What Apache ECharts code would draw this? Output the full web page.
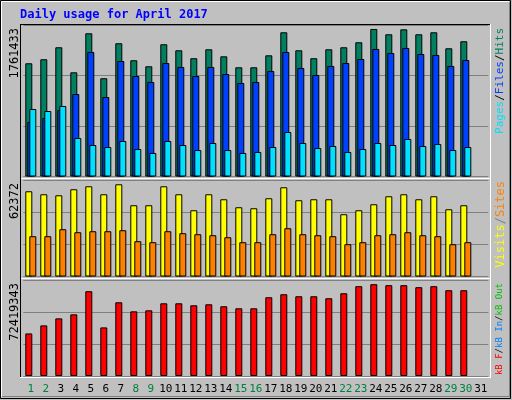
<!DOCTYPE html>
<html><head><meta charset="utf-8">
<script src="https://cdn.jsdelivr.net/npm/echarts@6/dist/echarts.min.js"></script>
<style>html,body{margin:0;padding:0;background:#c0c0c0}#c{width:512px;height:400px}</style>
</head><body><div id="c"></div>
<script>
const days = Array.from({length:31},(_,i)=>String(i+1));
const weekendDays = ['1','2','8','9','15','16','22','23','29','30'];
const hits = [1352000,1400000,1543000,1244000,1710000,1173000,1591000,1388000,1316000,1579000,1507000,1412000,1519000,1435000,1304000,1304000,1447000,1722000,1507000,1412000,1519000,1543000,1603000,1761433,1698000,1757000,1698000,1722000,1531000,1615000];
const files = [651000,699000,794000,985000,1487000,949000,1379000,1200000,1129000,1355000,1308000,1200000,1308000,1224000,1117000,1129000,1260000,1487000,1296000,1212000,1320000,1355000,1403000,1523000,1475000,1535000,1463000,1451000,1320000,1391000];
const pages = [806000,782000,842000,460000,376000,352000,424000,328000,281000,424000,376000,316000,400000,316000,281000,293000,352000,531000,400000,340000,364000,293000,328000,400000,376000,448000,364000,388000,316000,352000];
const visits = [57650,55620,54940,59000,61020,55620,62372,48190,48190,61020,55620,44810,55620,52240,46840,46160,52920,60350,51570,52240,52240,42110,44810,48860,54270,55620,52240,54270,45490,48190];
const sites = [27250,27250,31980,29950,30630,30630,31300,23870,23200,30630,29280,28600,27920,26570,23200,23200,28600,32650,28600,27920,27250,21840,23200,27920,28600,29950,27920,27250,21840,23200];
const kbytes = [33570000,39910000,45460000,48630000,66870000,38320000,58150000,51010000,51800000,57350000,57350000,55770000,56560000,54980000,53390000,53390000,62110000,64490000,62900000,62900000,61320000,65280000,70830000,72419343,71630000,71630000,70040000,70830000,67660000,67660000];
const maxLabels = ['1761433','62372','72419343'];

const ch = echarts.init(document.getElementById('c'));
const F = '"DejaVu Sans Mono", monospace';
const grids = [
  {left:23.3,width:465,top:25,height:151.5},
  {left:23.3,width:465,top:180.5,height:96},
  {left:23.3,width:465,top:280.5,height:95.5}
];
const ymax = [1809000,64940,75326000];
const xAxes = grids.map((g,i)=>({type:'category',gridIndex:i,data:days,boundaryGap:true,
  axisLine:{show:false},axisTick:{show:false},splitLine:{show:false},
  axisLabel:{show:i===2,fontFamily:F,fontSize:11,margin:8,interval:0,
    color:(v)=>weekendDays.includes(v)?'#008040':'#000'}}));
const yAxes = grids.map((g,i)=>({type:'value',gridIndex:i,min:0,max:ymax[i],interval:ymax[i]/3,
  axisLabel:{show:false},axisLine:{show:false},axisTick:{show:false},
  splitLine:{lineStyle:{color:'#808080',width:1}}}));
function bar(data,color,gi,w,gap){return {type:'bar',data,xAxisIndex:gi,yAxisIndex:gi,barWidth:w,barGap:gap,
  itemStyle:{color,borderColor:'#000',borderWidth:1},animation:false,silent:true};}
const series=[
  bar(hits,'#008060',0,7,'-71.4%'),
  bar(files,'#0040ff',0,7,'-71.4%'),
  bar(pages,'#00e0ff',0,7,'-71.4%'),
  bar(visits,'#ffff00',1,7,'-42.9%'),
  bar(sites,'#ff8000',1,7,'-42.9%'),
  bar(kbytes,'#ff0000',2,7,'-71.4%'),
  bar([],'#000',2,7,'-71.4%'),
  bar([],'#000',2,7,'-71.4%')
];
function line(x1,y1,x2,y2,c){return {type:'line',shape:{x1,y1,x2,y2},style:{stroke:c,lineWidth:1},silent:true};}
function mk(sz){const f=sz+'px '+F;return {p:{fill:'#00e0ff',font:f},f:{fill:'#0040ff',font:f},h:{fill:'#008060',font:f},s:{fill:'#000',font:f},
  v:{fill:'#ffff00',font:f},st:{fill:'#ff8000',font:f},g:{fill:'#808080',font:f},
  kf:{fill:'#ff0000',font:f},ki:{fill:'#0080ff',font:f},ko:{fill:'#00c000',font:f}};}
function leg(x,y,text,sz){return {type:'text',x,y,rotation:Math.PI/2,style:{text,rich:mk(sz),font:sz+'px '+F,align:'right',verticalAlign:'top'}};}
const graphic=[
  {type:'rect',shape:{x:0.5,y:0.5,width:510,height:398},style:{fill:null,stroke:'#000',lineWidth:1},silent:true},
  line(1.5,1.5,509,1.5,'#fff'),line(1.5,1.5,1.5,397,'#fff'),
  line(2,396.5,510,396.5,'#808080'),line(509.5,2,509.5,397,'#808080'),
  line(20,24.5,491,24.5,'#000'),line(20.5,24,20.5,378,'#000'),
  line(490.5,24,490.5,378,'#fff'),line(20,377.5,491,377.5,'#fff'),
  line(21,178.5,490,178.5,'#fff'),line(21,278.5,490,278.5,'#fff'),
  {type:'text',x:20,y:9,style:{text:'Daily usage for April 2017',fill:'#0000ff',font:'bold 12px '+F}},
  {type:'text',x:9,y:28,rotation:Math.PI/2,style:{text:maxLabels[0],fill:'#000',font:'12px '+F,align:'right',verticalAlign:'top'}},
  {type:'text',x:9,y:183,rotation:Math.PI/2,style:{text:maxLabels[1],fill:'#000',font:'12px '+F,align:'right',verticalAlign:'top'}},
  {type:'text',x:9,y:283,rotation:Math.PI/2,style:{text:maxLabels[2],fill:'#000',font:'12px '+F,align:'right',verticalAlign:'top'}},
  leg(495,28,'{p|Pages}{s|/}{f|Files}{s|/}{h|Hits}',11),
  leg(495,181,'{v|Visits}{g|/}{st|Sites}',12),
  leg(495,283,'{kf|kB F}{s|/}{ki|kB In}{s|/}{ko|kB Out}',9)
];
ch.setOption({backgroundColor:'#c0c0c0',animation:false,grid:grids,xAxis:xAxes,yAxis:yAxes,series,graphic});
</script></body></html>
